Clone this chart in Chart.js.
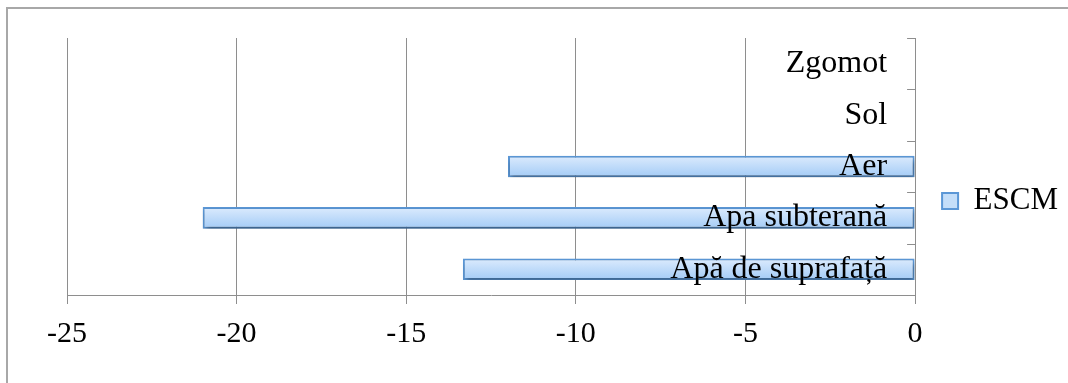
<!DOCTYPE html>
<html>
<head>
<meta charset="utf-8">
<script src="https://cdn.jsdelivr.net/npm/chart.js@4/dist/chart.umd.min.js"></script>
<style>
  html, body { margin: 0; padding: 0; background: #fff; overflow: hidden; }
  #frame { position: absolute; left: 6px; top: 7px; width: 1200px; height: 500px;
           border: 2px solid #a8a8a8; box-sizing: border-box; }
  #wrap { position: absolute; left: 0; top: 0; width: 1068px; height: 383px; }
</style>
</head>
<body>
<div id="frame"></div>
<div id="wrap"><canvas id="chart"></canvas></div>
<script>
// Environmental impact scores per component (ESCM)
const categories = ['Apă de suprafață', 'Apa subterană', 'Aer', 'Sol', 'Zgomot'];
const escmValues = [-13.33, -21, -12, 0, 0];
const seriesName = 'ESCM';
const xTicks = { min: -25, max: 0, step: 5 };

const GRID = '#8e8e8e';
const SERIF = "'Liberation Serif', 'Times New Roman', serif";
const BAR_PCT = 0.42;

function barGradient(ctx) {
  const chart = ctx.chart;
  const y = chart.scales.y;
  if (!y || ctx.dataIndex === undefined) return '#bcdcf9';
  const cy = y.getPixelForValue(ctx.dataIndex);
  const h = Math.abs(y.getPixelForValue(1) - y.getPixelForValue(0)) * BAR_PCT;
  const g = chart.ctx.createLinearGradient(0, cy - h / 2, 0, cy + h / 2);
  g.addColorStop(0, '#dcebfd');
  g.addColorStop(1, '#a3cbf6');
  return g;
}

// soft drop shadow under the bars
const barShadow = {
  id: 'barShadow',
  beforeDatasetsDraw(chart) {
    const c = chart.ctx;
    c.save();
    c.shadowColor = 'rgba(0,0,0,0.4)';
    c.shadowBlur = 5;
    c.shadowOffsetX = 1;
    c.shadowOffsetY = 3;
  },
  afterDatasetsDraw(chart) { chart.ctx.restore(); }
};

// short inward tick marks on the category axis, at category boundaries
const innerTicks = {
  id: 'innerTicks',
  afterDraw(chart) {
    const y = chart.scales.y;
    const x0 = chart.scales.x.getPixelForValue(0);
    const c = chart.ctx;
    c.save();
    c.strokeStyle = GRID;
    c.lineWidth = 1;
    c.beginPath();
    for (let i = 0; i <= categories.length; i++) {
      const py = Math.round(y.getPixelForValue(i - 0.5)) + 0.5;
      c.moveTo(x0 - 8, py);
      c.lineTo(x0, py);
    }
    c.stroke();
    c.restore();
  }
};

new Chart(document.getElementById('chart'), {
  type: 'bar',
  data: {
    labels: categories,
    datasets: [{
      label: seriesName,
      data: escmValues,
      backgroundColor: barGradient,
      borderColor: '#5b97d6',
      borderWidth: 2,
      borderSkipped: false,
      barPercentage: 0.7,
      categoryPercentage: BAR_PCT / 0.7
    }]
  },
  options: {
    indexAxis: 'y',
    responsive: true,
    maintainAspectRatio: false,
    animation: false,
    layout: { padding: { left: 67, top: 38, right: 0, bottom: 19 } },
    plugins: {
      tooltip: { enabled: false },
      legend: {
        position: 'right',
        labels: {
          font: { family: SERIF, size: 31 },
          color: '#000',
          boxWidth: 16,
          boxHeight: 16,
          padding: 27,
          generateLabels(chart) {
            return [{
              text: seriesName,
              fillStyle: '#c4def9',
              strokeStyle: '#5b97d6',
              lineWidth: 2,
              datasetIndex: 0
            }];
          }
        }
      }
    },
    scales: {
      x: {
        min: xTicks.min,
        max: xTicks.max,
        ticks: { stepSize: xTicks.step, color: '#000', padding: 12,
                 font: { family: SERIF, size: 30 } },
        grid: { color: GRID, lineWidth: 1, tickLength: 9, drawTicks: true },
        border: { display: true, color: GRID, width: 1 }
      },
      y: {
        position: 'right',
        reverse: true,
        afterFit(scale) { scale.width = 0; },
        ticks: { mirror: true, padding: -28, z: 1, color: '#000',
                 font: { family: SERIF, size: 32 } },
        grid: { display: false, drawTicks: false },
        border: { display: true, color: GRID, width: 1 }
      }
    }
  },
  plugins: [barShadow, innerTicks]
});
</script>
</body>
</html>
